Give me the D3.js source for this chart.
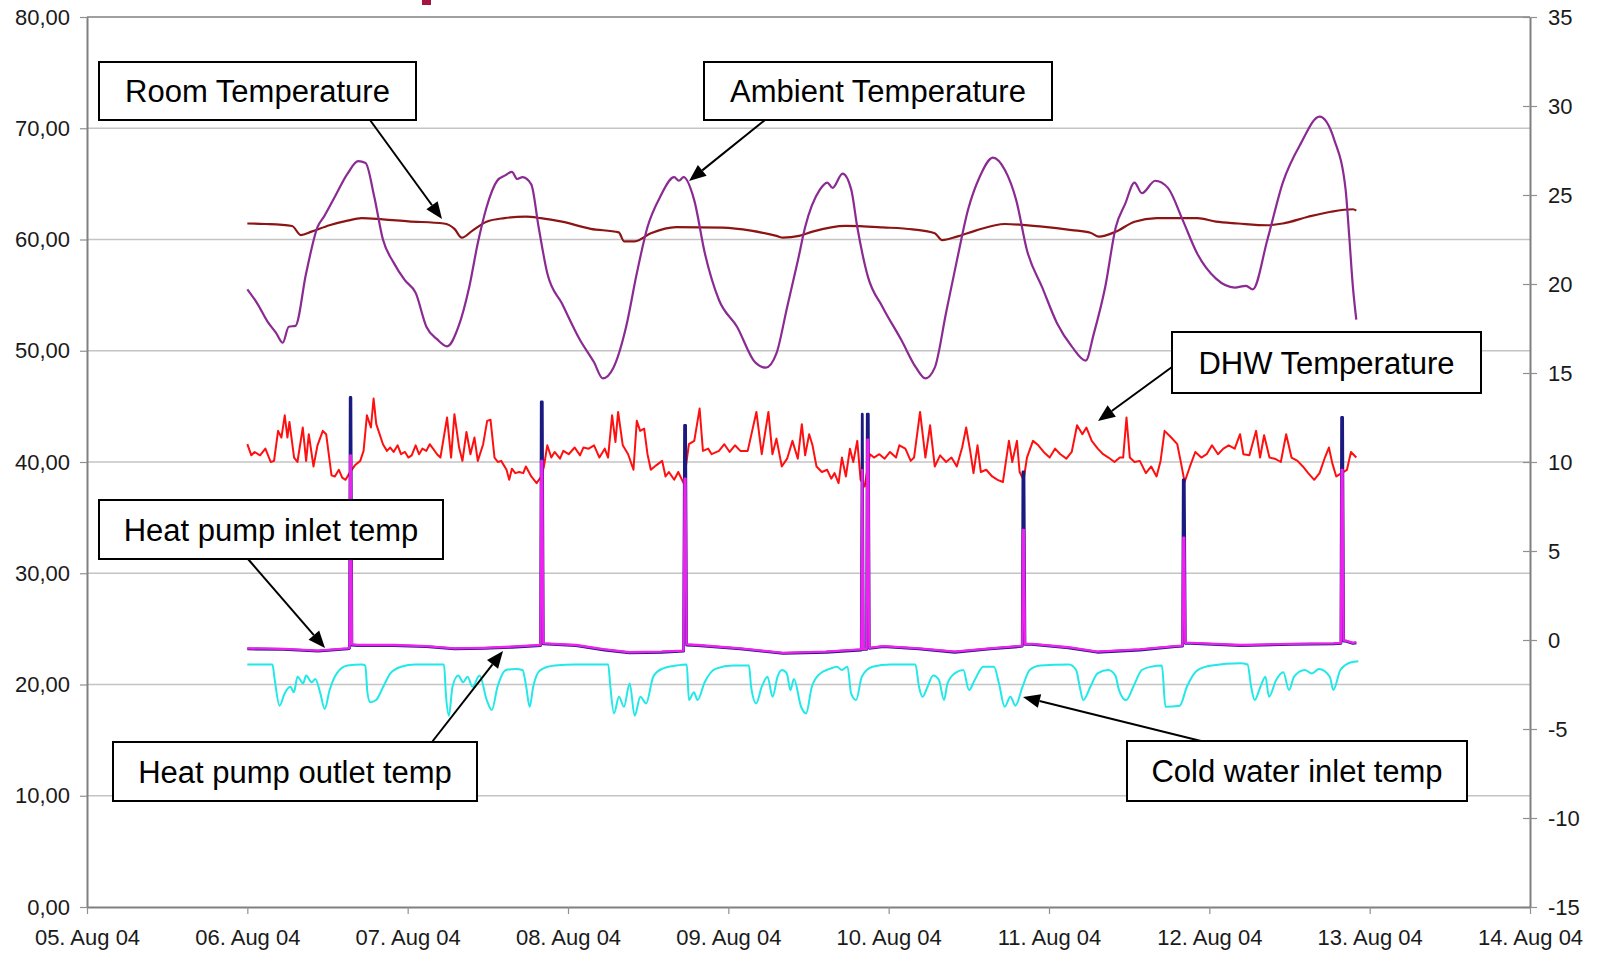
<!DOCTYPE html>
<html><head><meta charset="utf-8">
<script src="https://cdn.jsdelivr.net/npm/d3@7"></script>
<style>html,body{margin:0;padding:0;background:#fff;overflow:hidden}</style>
</head><body><svg id="chart" width="1599" height="954"></svg>
<script>
// ---------------- DATA ----------------
const dayTicks = ["2004-08-05","2004-08-06","2004-08-07","2004-08-08","2004-08-09","2004-08-10","2004-08-11","2004-08-12","2004-08-13","2004-08-14"];
const leftTicks = [0,10,20,30,40,50,60,70,80];
const rightTicks = [-15,-10,-5,0,5,10,15,20,25,30,35];
const seriesStart = "2004-08-06";
// [hours since 06 Aug 00:00, value]
const ambientTemp = [[0,19.7],[1.5,18.9],[3.0,17.9],[4.3,17.25],[5.3,16.7],[6.2,17.6],[7.2,17.65],[8.8,20.6],[10.5,23.2],[11.5,23.8],[13.1,24.9],[15.0,26.2],[16.6,26.9],[17.7,26.8],[19.0,24.9],[20.3,22.5],[21.9,21.2],[23.6,20.2],[25.2,19.5],[26.8,17.6],[28.4,16.9],[29.9,16.5],[31.6,17.6],[33.2,19.8],[34.5,22.3],[35.8,24.3],[37.4,25.8],[38.6,26.1],[39.6,26.3],[40.4,25.9],[41.2,26.0],[42.5,25.6],[43.6,23.2],[44.9,20.6],[47.1,18.9],[49.8,16.85],[51.9,15.6],[53.2,14.7],[54.8,15.3],[56.7,17.6],[58.3,20.6],[59.9,23.2],[61.8,24.9],[63.9,26.0],[64.6,25.8],[65.3,26.0],[66.9,24.7],[68.5,21.7],[70.6,19.1],[73.3,17.6],[76.0,15.6],[77.6,15.3],[79.2,16.1],[80.8,18.7],[82.4,21.3],[83.5,23.2],[85.7,25.3],[86.8,25.7],[87.6,25.4],[89.1,26.2],[90.4,25.3],[91.3,23.2],[92.9,20.4],[95.1,18.7],[97.9,16.85],[100.1,15.3],[101.5,14.7],[102.9,15.3],[104.6,18.4],[106.2,21.3],[107.9,24.2],[109.6,26.0],[111.6,27.1],[113.4,26.4],[115.1,24.7],[116.7,21.9],[119.0,19.8],[121.2,17.8],[123.4,16.5],[125.5,15.7],[126.7,17.2],[128.4,19.8],[130.0,23.2],[131.4,24.5],[132.8,25.7],[133.9,25.1],[135.9,25.8],[137.8,25.4],[140.0,23.6],[142.2,21.7],[145.0,20.3],[147.8,19.8],[149.5,19.9],[150.5,19.7],[152.7,22.5],[155.0,25.7],[157.7,27.9],[160.5,29.4],[162.7,28.1],[164.4,25.3],[164.9,22.9],[165.5,19.8],[166.0,18.0]];
const roomTemp = [[0,23.4],[2.7,23.37],[6.7,23.26],[8.0,22.75],[9.6,22.94],[12.3,23.3],[15.0,23.56],[17.1,23.7],[20.3,23.63],[24.1,23.52],[29.4,23.4],[31.0,23.1],[32.1,22.6],[33.7,23.0],[35.8,23.5],[38.5,23.7],[41.7,23.78],[43.9,23.7],[47.1,23.5],[51.4,23.1],[55.6,22.9],[56.4,22.4],[58.0,22.4],[60.4,22.85],[64.2,23.2],[71.1,23.17],[75.4,23.0],[79.2,22.7],[80.2,22.6],[82.6,22.7],[84.6,22.94],[89.6,23.26],[95.1,23.18],[99.6,23.07],[102.9,22.85],[104.0,22.47],[106.2,22.66],[109.0,23.0],[113.4,23.37],[119.0,23.22],[123.4,23.03],[126.2,22.88],[127.5,22.66],[130.0,22.94],[132.8,23.5],[136.1,23.7],[142.2,23.7],[145.0,23.5],[148.3,23.4],[152.7,23.3],[155.0,23.4],[158.8,23.78],[162.2,24.06],[165.5,24.2],[166.0,24.12]];
const dhwTemp = [[0,41.6],[0.6,40.6],[1.1,40.9],[1.9,40.6],[2.7,41.2],[3.5,40.0],[4.0,40.1],[4.6,42.8],[5.1,42.2],[5.6,44.2],[6.0,42.2],[6.3,43.6],[7.0,40.4],[7.5,40.0],[8.3,43.1],[8.8,40.1],[9.2,42.5],[9.9,39.6],[10.5,41.5],[11.3,42.8],[11.8,42.5],[12.6,38.8],[13.1,38.7],[13.7,39.3],[14.2,38.6],[14.7,38.4],[15.3,39.0],[16.1,39.7],[16.9,40.1],[17.4,41.0],[17.9,44.2],[18.5,43.1],[18.9,45.7],[19.3,43.4],[19.8,42.5],[20.3,41.6],[20.9,41.0],[21.4,41.3],[21.9,40.9],[22.5,41.5],[23.0,40.7],[23.6,40.9],[24.1,40.4],[24.6,40.6],[25.2,41.5],[25.7,40.7],[26.2,41.2],[26.8,41.0],[27.3,41.6],[27.8,41.2],[28.4,40.7],[28.9,40.4],[29.9,44.0],[30.5,40.4],[31.0,44.3],[31.7,41.3],[32.2,40.1],[32.8,42.7],[33.4,40.7],[34.0,42.2],[34.5,40.1],[35.3,41.6],[35.9,43.7],[36.4,43.8],[37.0,40.4],[37.5,40.0],[38.0,40.1],[38.8,39.3],[39.2,38.4],[39.6,39.4],[40.1,39.0],[40.7,39.1],[41.3,39.0],[41.7,39.6],[42.5,38.7],[43.3,38.1],[44.0,38.7],[44.4,39.6],[44.9,41.5],[45.5,40.4],[46.0,40.9],[46.8,40.3],[47.3,41.0],[48.1,40.7],[49.0,41.3],[49.8,40.6],[50.3,41.3],[51.1,41.2],[51.9,41.5],[52.7,40.4],[53.5,41.2],[54.0,40.4],[54.6,44.2],[55.1,41.8],[55.5,44.5],[56.2,41.5],[57.0,40.7],[57.8,39.3],[58.3,43.7],[58.8,42.8],[59.4,43.0],[59.9,40.7],[60.4,39.3],[61.2,39.7],[62.1,40.1],[62.6,38.7],[63.1,39.1],[63.9,38.4],[64.5,39.1],[65.3,38.1],[66.1,41.6],[66.9,41.9],[67.7,44.8],[68.2,41.0],[69.0,41.2],[69.5,40.7],[70.6,41.0],[71.4,41.6],[72.2,40.9],[73.0,41.5],[73.8,41.0],[74.9,41.0],[76.2,44.5],[77.0,40.7],[78.0,44.5],[78.6,40.7],[79.2,42.1],[80.0,39.6],[80.8,40.3],[81.6,41.9],[82.4,40.3],[83.0,43.4],[83.5,40.6],[84.1,42.5],[84.6,41.5],[85.2,39.6],[86.0,39.1],[86.8,39.3],[87.4,38.5],[87.9,39.0],[88.5,38.1],[89.0,40.4],[89.6,38.7],[90.2,41.2],[90.7,40.0],[91.3,41.9],[91.8,38.4],[92.4,37.8],[93.2,40.7],[93.8,40.4],[94.6,40.7],[95.4,40.3],[96.2,40.9],[97.1,40.4],[97.6,41.5],[98.5,41.2],[99.3,40.1],[99.8,40.4],[100.7,44.5],[101.5,40.4],[102.2,43.3],[102.9,39.6],[103.7,40.6],[104.6,40.0],[105.4,40.4],[106.2,39.6],[107.0,41.3],[107.6,43.1],[108.2,41.0],[108.7,39.0],[109.3,41.5],[109.8,39.1],[110.6,39.3],[111.5,38.7],[112.3,38.4],[113.1,38.2],[114.0,41.9],[114.5,40.0],[115.2,41.9],[115.6,39.1],[116.2,38.4],[116.7,40.4],[117.6,41.9],[118.4,41.5],[119.2,40.9],[120.1,40.4],[120.9,41.2],[121.7,40.7],[122.6,40.3],[123.4,40.9],[124.2,43.3],[125.0,42.5],[125.6,43.1],[126.4,41.9],[127.3,41.2],[128.1,40.7],[128.9,40.4],[129.8,40.0],[130.6,40.4],[131.1,40.4],[131.6,44.0],[132.1,40.4],[132.8,40.0],[133.6,40.1],[134.5,39.0],[135.3,39.6],[136.1,38.7],[136.7,40.1],[137.3,42.8],[138.3,42.2],[139.2,41.6],[139.7,40.1],[140.3,38.2],[141.1,39.6],[141.9,40.9],[142.8,40.4],[143.6,40.7],[144.4,41.5],[145.3,40.7],[146.1,41.2],[146.9,41.5],[147.8,41.2],[148.6,42.5],[149.1,40.7],[150.0,40.6],[151.0,42.8],[151.6,40.4],[152.2,42.4],[153.0,40.4],[153.8,40.3],[154.7,40.0],[155.5,42.5],[156.3,40.4],[157.2,40.1],[158.0,39.6],[158.8,39.0],[159.7,38.4],[160.5,39.0],[161.3,40.4],[161.9,41.3],[162.4,39.9],[163.0,38.7],[163.8,39.0],[164.6,39.3],[165.2,40.9],[166.0,40.4]];
const hpInletTemp = [[0,23.25],[5.4,23.2],[10.6,23.05],[15.0,23.25],[15.3,23.3],[15.4,40.6],[15.5,40.6],[15.65,23.6],[16.6,23.55],[21.9,23.55],[26.8,23.45],[31.0,23.25],[35.4,23.3],[39.6,23.4],[43.9,23.55],[44.0,40.1],[44.15,40.1],[44.3,23.7],[49.2,23.55],[53.5,23.15],[57.2,22.9],[62.0,22.95],[65.3,23.05],[65.45,38.5],[65.6,38.5],[65.75,23.6],[67.4,23.55],[73.8,23.25],[80.2,22.85],[86.6,22.95],[91.9,23.15],[92.05,39.3],[92.2,23.2],[92.7,23.2],[92.8,42.0],[92.95,42.0],[93.1,23.3],[95.2,23.45],[100.5,23.25],[105.9,22.95],[111.2,23.25],[115.5,23.45],[116.0,23.5],[116.1,33.9],[116.25,33.9],[116.4,23.65],[117.4,23.65],[122.9,23.35],[127.2,22.95],[133.6,23.15],[138.9,23.45],[140.0,23.5],[140.1,33.2],[140.25,33.2],[140.4,23.75],[141.2,23.75],[148.7,23.55],[156.2,23.65],[162.6,23.7],[163.7,23.75],[163.8,39.3],[163.95,39.3],[164.1,23.95],[164.4,23.95],[165.5,23.75],[166.0,23.8]];
const hpOutletTemp = [[0,23.2],[5.4,23.15],[10.6,23.0],[15.0,23.2],[15.3,23.25],[15.4,45.8],[15.5,45.8],[15.65,23.55],[16.6,23.5],[21.9,23.5],[26.8,23.4],[31.0,23.2],[35.4,23.25],[39.6,23.35],[43.9,23.5],[44.0,45.4],[44.15,45.4],[44.3,23.65],[49.2,23.5],[53.5,23.1],[57.2,22.85],[62.0,22.9],[65.3,23.0],[65.45,43.3],[65.6,43.3],[65.75,23.55],[67.4,23.5],[73.8,23.2],[80.2,22.8],[86.6,22.9],[91.9,23.1],[92.05,44.3],[92.2,23.15],[92.7,23.15],[92.8,44.3],[92.95,44.3],[93.1,23.25],[95.2,23.4],[100.5,23.2],[105.9,22.9],[111.2,23.2],[115.5,23.4],[116.0,23.45],[116.1,39.1],[116.25,39.1],[116.4,23.6],[117.4,23.6],[122.9,23.3],[127.2,22.9],[133.6,23.1],[138.9,23.4],[140.0,23.45],[140.1,38.4],[140.25,38.4],[140.4,23.7],[141.2,23.7],[148.7,23.5],[156.2,23.6],[162.6,23.65],[163.7,23.7],[163.8,44.0],[163.95,44.0],[164.1,23.9],[164.4,23.9],[165.5,23.7],[166.0,23.75]];
const coldWaterTemp = [[0,21.8],[3.76,21.8],[4.08,20.5],[4.83,18.1],[5.58,19.2],[6.44,19.8],[6.97,19.3],[7.51,20.7],[8.36,20.1],[8.79,20.8],[9.65,20.2],[10.18,20.5],[10.93,19.2],[11.57,17.8],[12.32,19.5],[13.39,21.0],[14.99,21.7],[17.13,21.8],[17.66,21.7],[17.99,19.2],[18.41,18.4],[19.27,18.6],[20.34,19.8],[21.41,21.0],[23.01,21.6],[25.15,21.8],[29.43,21.8],[29.75,18.9],[30.17,17.2],[30.71,19.8],[31.57,20.8],[32.32,20.2],[32.96,20.7],[33.7,19.8],[34.77,20.8],[35.84,18.6],[36.59,17.7],[37.45,19.8],[38.73,21.3],[40.12,21.4],[41.19,21.3],[41.72,19.9],[42.26,18.0],[42.79,19.8],[43.86,21.3],[46.0,21.7],[49.21,21.8],[54.02,21.8],[54.34,19.8],[54.88,17.4],[55.63,18.9],[56.37,18.0],[57.23,20.1],[57.98,17.2],[58.83,18.9],[59.69,18.3],[60.76,20.7],[62.04,21.4],[64.18,21.7],[65.78,21.8],[66.1,18.6],[66.85,19.3],[67.39,18.6],[68.46,20.2],[70.06,21.4],[72.73,21.7],[75.09,21.7],[75.41,19.8],[76.16,18.3],[77.01,19.8],[77.87,20.7],[78.62,18.9],[79.37,20.7],[80.01,21.3],[80.75,21.0],[81.29,19.5],[81.82,20.5],[82.89,18.0],[83.64,17.4],[84.5,19.8],[85.78,21.0],[87.17,21.4],[88.24,21.6],[88.99,21.3],[89.84,21.6],[90.38,19.2],[91.13,18.6],[91.98,20.7],[93.58,21.6],[96.26,21.8],[100.0,21.8],[100.54,19.8],[101.07,18.9],[101.82,19.8],[102.67,20.8],[103.53,20.4],[104.28,18.6],[104.81,20.1],[105.88,21.0],[107.17,21.3],[108.02,19.5],[108.88,20.4],[110.16,21.6],[111.76,21.6],[112.51,20.1],[113.37,18.0],[114.22,18.9],[114.97,18.1],[116.04,19.8],[117.11,21.3],[118.71,21.7],[122.99,21.8],[124.06,21.3],[124.6,19.8],[125.13,18.6],[126.2,19.8],[127.27,21.0],[128.87,21.3],[129.94,20.8],[130.48,19.5],[131.55,18.6],[132.62,19.8],[133.9,21.3],[135.29,21.6],[136.9,21.7],[137.43,18.0],[139.57,18.1],[140.64,19.8],[142.24,21.3],[144.38,21.7],[148.65,21.9],[149.72,21.8],[150.26,19.8],[150.79,18.6],[151.65,19.8],[152.4,20.7],[152.93,18.9],[154.0,20.4],[155.07,21.1],[155.93,19.5],[156.68,20.7],[158.28,21.3],[159.35,21.0],[160.42,21.4],[162.03,20.7],[162.56,19.5],[163.62,21.3],[165.23,22.0],[166.3,22.1]];
const annotationLabels = ["Room Temperature","Ambient Temperature","DHW Temperature","Heat pump inlet temp","Heat pump outlet temp","Cold water inlet temp"];

// ---------------- LAYOUT ----------------
const M = {left:87, right:1530, top:17, bottom:907};
const FONT = "'Liberation Sans', Arial, Helvetica, sans-serif";
// box [x,y,w,h], arrow [x1,y1,x2(tip),y2(tip)]
const annLayout = [
  {box:[99,62,317,58], arrow:[370,120,442,219]},
  {box:[704,62,348,58], arrow:[765,120,689,181]},
  {box:[1172,332,309,61], arrow:[1172,367,1098,421]},
  {box:[99,500,344,59], arrow:[248,559,325,648]},
  {box:[113,742,364,59], arrow:[432,742,503,651]},
  {box:[1127,741,340,60], arrow:[1201,741,1023,697]}
];

const svg = d3.select("#chart");
const parse = d3.utcParse("%Y-%m-%d");
const t0 = parse(seriesStart);
const toDate = h => new Date(t0.getTime() + h*3600e3);
const x = d3.scaleUtc().domain([parse(dayTicks[0]), parse(dayTicks[dayTicks.length-1])]).range([M.left, M.right]);
const yL = d3.scaleLinear().domain([d3.min(leftTicks), d3.max(leftTicks)]).range([M.bottom, M.top]);
const yR = d3.scaleLinear().domain([d3.min(rightTicks), d3.max(rightTicks)]).range([M.bottom, M.top]);

// title fragment (cropped title)
svg.append("rect").attr("x",422).attr("y",0).attr("width",9).attr("height",5).attr("fill","#a3143f");

// gridlines
svg.append("g").selectAll("line").data(leftTicks.filter(d=>d>0)).join("line")
  .attr("x1",M.left).attr("x2",M.right).attr("y1",d=>yL(d)).attr("y2",d=>yL(d))
  .attr("stroke", d=> d===80 ? "#a0a0a0" : "#c4c4c4").attr("stroke-width", d=> d===80 ? 2 : 1.5);

// series
const mk = (ys, curve) => d3.line().x(d=>x(toDate(d[0]))).y(d=>ys(d[1])).curve(curve);
const series = [
  {data: roomTemp, gen: mk(yR, d3.curveMonotoneX), color:"#8c1414", w:2.2},
  {data: ambientTemp, gen: mk(yR, d3.curveMonotoneX), color:"#8a2a92", w:2.2},
  {data: dhwTemp, gen: mk(yL, d3.curveLinear), color:"#ff1010", w:2},
  {data: coldWaterTemp, gen: mk(yL, d3.curveMonotoneX), color:"#22e8e8", w:2},
  {data: hpOutletTemp, gen: mk(yL, d3.curveLinear), color:"#1a1a80", w:2.8},
  {data: hpInletTemp, gen: mk(yL, d3.curveLinear), color:"#ee22ee", w:2.3}
];
series.forEach(s=>{
  svg.append("path").attr("d", s.gen(s.data)).attr("fill","none")
    .attr("stroke", s.color).attr("stroke-width", s.w).attr("stroke-linejoin","round");
});

// axes
const fmtL = d => d3.format(".2f")(d).replace(".", ",");
const gL = svg.append("g").attr("transform",`translate(${M.left},0)`)
  .call(d3.axisLeft(yL).tickValues(leftTicks).tickSize(7).tickSizeOuter(0).tickPadding(10).tickFormat(fmtL));
const gR = svg.append("g").attr("transform",`translate(${M.right},0)`)
  .call(d3.axisRight(yR).tickValues(rightTicks).tickSize(7).tickSizeOuter(0).tickPadding(11).tickFormat(d => String(d)));
gR.selectAll(".tick line").attr("x1",-7).attr("x2",7);
const gB = svg.append("g").attr("transform",`translate(0,${M.bottom})`)
  .call(d3.axisBottom(x).tickValues(dayTicks.map(parse)).tickSize(7).tickSizeOuter(0).tickPadding(15).tickFormat(d3.utcFormat("%d. %b %y")));
[gL,gR,gB].forEach(g=>{
  g.select(".domain").attr("stroke","#808080").attr("stroke-width",2);
  g.selectAll(".tick line").attr("stroke","#909090").attr("stroke-width",1.2);
  g.selectAll("text").attr("font-family",FONT).attr("font-size",22).attr("fill","#1a1a1a");
});

// annotations
const ann = svg.append("g");
annLayout.forEach((a,i)=>{
  const [bx,by,bw,bh] = a.box;
  const [x1,y1,x2,y2] = a.arrow;
  const ang = Math.atan2(y2-y1, x2-x1), L = 17, Wd = 7;
  const bxp = x2 - L*Math.cos(ang), byp = y2 - L*Math.sin(ang);
  ann.append("line").attr("x1",x1).attr("y1",y1).attr("x2",bxp).attr("y2",byp)
    .attr("stroke","#000").attr("stroke-width",2);
  const px = -Math.sin(ang)*Wd, py = Math.cos(ang)*Wd;
  ann.append("polygon").attr("points",`${x2},${y2} ${bxp+px},${byp+py} ${bxp-px},${byp-py}`).attr("fill","#000");
  ann.append("rect").attr("x",bx).attr("y",by).attr("width",bw).attr("height",bh)
    .attr("fill","#fff").attr("stroke","#000").attr("stroke-width",2);
  ann.append("text").attr("x",bx+bw/2).attr("y",by+bh/2).attr("dy","0.36em")
    .attr("text-anchor","middle").attr("font-family",FONT).attr("font-size",31)
    .attr("fill","#000").text(annotationLabels[i]);
});
</script></body></html>
